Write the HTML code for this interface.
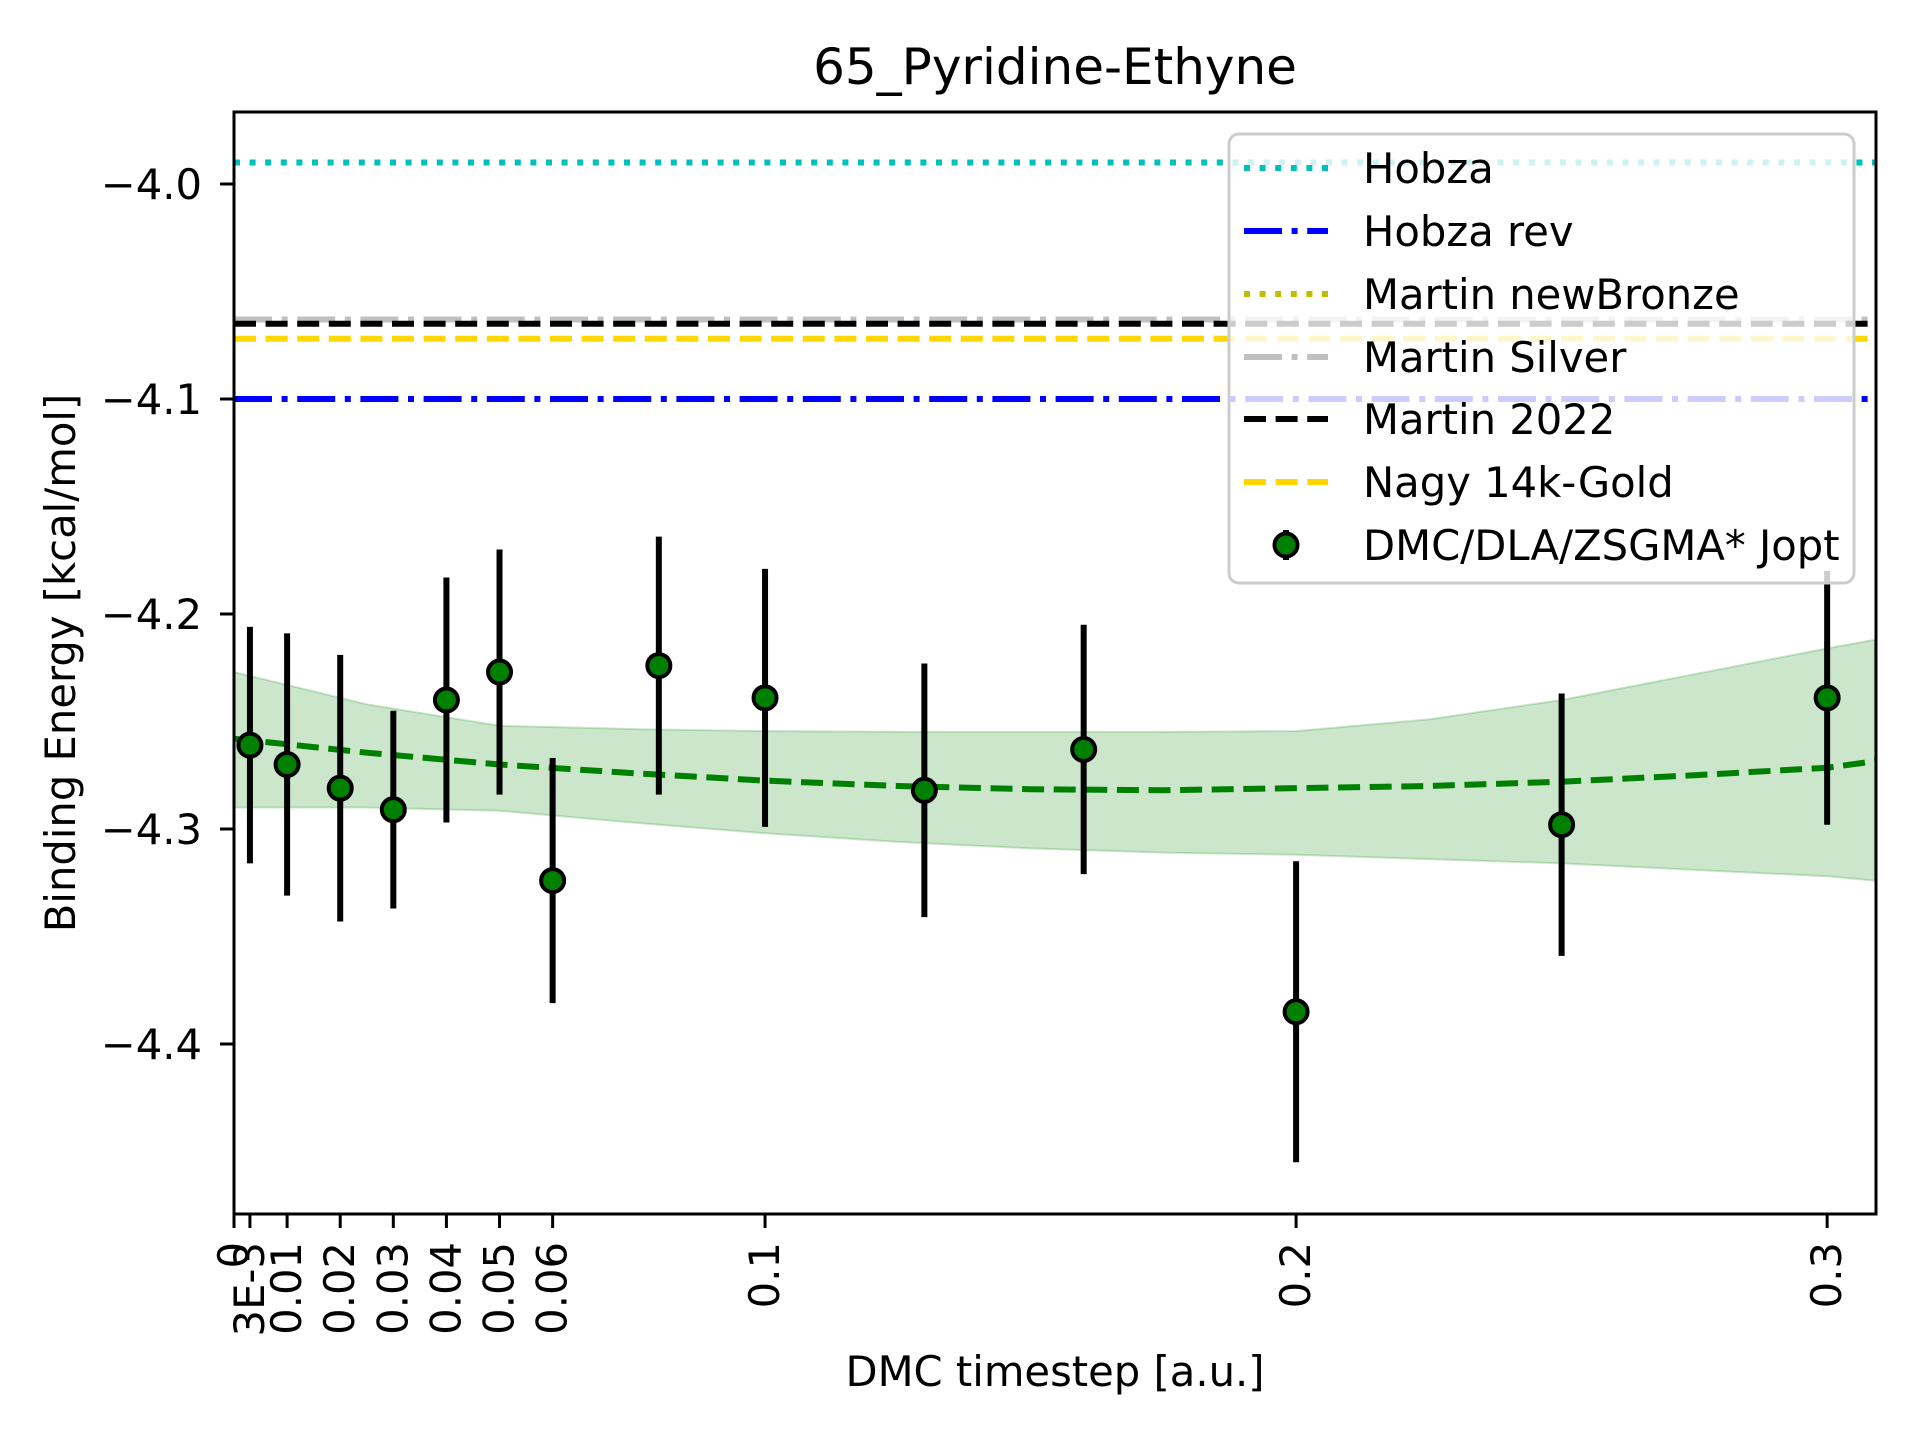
<!DOCTYPE html>
<html><head><meta charset="utf-8"><style>
html,body{margin:0;padding:0;background:#fff}
svg text{font-family:"DejaVu Sans","Liberation Sans",sans-serif;fill:#000}
</style></head><body>
<svg id="chart" width="1920" height="1440" xmlns="http://www.w3.org/2000/svg">
<rect width="1920" height="1440" fill="#fff"/>
<g id="band-layer"></g>
<g id="ref-lines"></g>
<g id="fit-layer"></g>
<g id="points-layer"></g>
<rect x="234" y="112" width="1642" height="1102" fill="none" stroke="#000" stroke-width="3"/>
<g id="ticks"></g>
<text x="1055" y="84" font-size="50" text-anchor="middle">65_Pyridine-Ethyne</text>
<text transform="translate(75,663) rotate(-90)" font-size="41.7" text-anchor="middle">Binding Energy [kcal/mol]</text>
<text x="1055" y="1386" font-size="41.7" text-anchor="middle">DMC timestep [a.u.]</text>
<g id="legend">
<rect x="1229" y="134" width="625" height="449" rx="10" fill="#fff" fill-opacity="0.8" stroke="#ccc" stroke-width="3"/>
</g>
</svg>
<script>
const xTicks=[0,0.003,0.01,0.02,0.03,0.04,0.05,0.06,0.1,0.2,0.3];
const xTickLabels=["0","3E-3","0.01","0.02","0.03","0.04","0.05","0.06","0.1","0.2","0.3"];
const yTicks=[-4.0,-4.1,-4.2,-4.3,-4.4];
const yTickLabels=["\u22124.0","\u22124.1","\u22124.2","\u22124.3","\u22124.4"];
const ptX=[0.003,0.01,0.02,0.03,0.04,0.05,0.06,0.08,0.1,0.13,0.16,0.2,0.25,0.3];
const ptY=[-4.261,-4.270,-4.281,-4.291,-4.240,-4.227,-4.324,-4.224,-4.239,-4.282,-4.263,-4.385,-4.298,-4.239];
const ptErr=[0.055,0.061,0.062,0.046,0.057,0.057,0.057,0.06,0.06,0.059,0.058,0.07,0.061,0.059];
const fitX=[0,0.025,0.05,0.075,0.1,0.125,0.15,0.175,0.2,0.225,0.25,0.275,0.3,0.309];
const fitY=[-4.258,-4.2645,-4.270,-4.274,-4.2775,-4.280,-4.2815,-4.282,-4.281,-4.280,-4.278,-4.275,-4.2715,-4.2685];
const bandHi=[-4.227,-4.242,-4.252,-4.2535,-4.2545,-4.2548,-4.2548,-4.2548,-4.2545,-4.249,-4.240,-4.228,-4.216,-4.212];
const bandLo=[-4.290,-4.290,-4.2915,-4.297,-4.302,-4.306,-4.309,-4.311,-4.312,-4.314,-4.316,-4.319,-4.322,-4.324];
const refNames=["Hobza","Hobza rev","Martin newBronze","Martin Silver","Martin 2022","Nagy 14k-Gold"];
const refValues=[-3.99,-4.1,null,-4.063,-4.065,-4.072];
const refColors=["#00bfbf","#0000ff","#bfbf00","#c0c0c0","#000000","#ffd700"];
const refDash=["6,9.6","38,9.6,6,9.6","6,9.6","38,9.6,6,9.6","22,9.6","22,9.6"];

const X0=234,X1=1876,Y0=112,Y1=1214;
const xmin=0,xmax=0.3092;
const sx=v=>X0+(v-xmin)/(xmax-xmin)*(X1-X0);
const sy=v=>184+(-4.0-v)*2150;
const NS="http://www.w3.org/2000/svg";
function mk(tag,attrs,parent){const e=document.createElementNS(NS,tag);for(const k in attrs)e.setAttribute(k,attrs[k]);parent.appendChild(e);return e;}
const $=id=>document.getElementById(id);

let d="M"+fitX.map((x,i)=>sx(x)+","+sy(bandHi[i])).join("L");
for(let i=fitX.length-1;i>=0;i--)d+="L"+sx(fitX[i])+","+sy(bandLo[i]);
const band=mk("path",{d:d+"Z",fill:"#008000","fill-opacity":"0.2",stroke:"#008000","stroke-opacity":"0.2","stroke-width":"2"},$("band-layer"));



refValues.forEach((v,i)=>{
  if(v===null)return;
  const l=mk("line",{x1:X0,x2:X1,y1:sy(v),y2:sy(v),stroke:refColors[i],"stroke-width":"6","stroke-dasharray":refDash[i]},$("ref-lines"));
  
  
});

const fit=mk("path",{d:"M"+fitX.map((x,i)=>sx(x)+","+sy(fitY[i])).join("L"),fill:"none",stroke:"#008000","stroke-width":"6","stroke-dasharray":"22,9.6"},$("fit-layer"));



ptX.forEach((x,i)=>{
  const g=mk("g",{},$("points-layer"));
  
  
  mk("line",{x1:sx(x),x2:sx(x),y1:sy(ptY[i]+ptErr[i]),y2:sy(ptY[i]-ptErr[i]),stroke:"#000","stroke-width":"6"},g);
  mk("circle",{cx:sx(x),cy:sy(ptY[i]),r:"11.5",fill:"#008000",stroke:"#000","stroke-width":"4"},g);
});

const tg=$("ticks");
xTicks.forEach((v,i)=>{
  const x=sx(v);
  const t=mk("line",{x1:x,x2:x,y1:Y1,y2:Y1+14,stroke:"#000","stroke-width":"3"},tg);
  
  
  const tx=mk("text",{transform:`translate(${x+14},${Y1+28}) rotate(-90)`,"font-size":"41.7","text-anchor":"end"},tg);
  tx.textContent=xTickLabels[i];
  
  
});
yTicks.forEach((v,i)=>{
  const y=sy(v);
  const t=mk("line",{x1:X0-14,x2:X0,y1:y,y2:y,stroke:"#000","stroke-width":"3"},tg);
  
  
  const tx=mk("text",{x:202,y:y+15,"font-size":"41.7","text-anchor":"end"},tg);
  tx.textContent=yTickLabels[i];
  
  
});

const lg=$("legend");
const rows=[168,231,294,357,419,482,545];
refNames.forEach((n,i)=>{
  const y=rows[i];
  const g=mk("g",{},lg);
  
  
  mk("line",{x1:1244,x2:1328,y1:y,y2:y,stroke:refColors[i],"stroke-width":"6","stroke-dasharray":refDash[i]},g);
  const t=mk("text",{x:1363,y:y+15,"font-size":"41.7"},g);
  t.textContent=n;
});
const g=mk("g",{},lg);


mk("line",{x1:1286,x2:1286,y1:530,y2:560,stroke:"#000","stroke-width":"6"},g);
mk("circle",{cx:1286,cy:545,r:"11.5",fill:"#008000",stroke:"#000","stroke-width":"4"},g);
const t=mk("text",{x:1363,y:560,"font-size":"41.7"},g);
t.textContent="DMC/DLA/ZSGMA* Jopt";
</script>
</body></html>
